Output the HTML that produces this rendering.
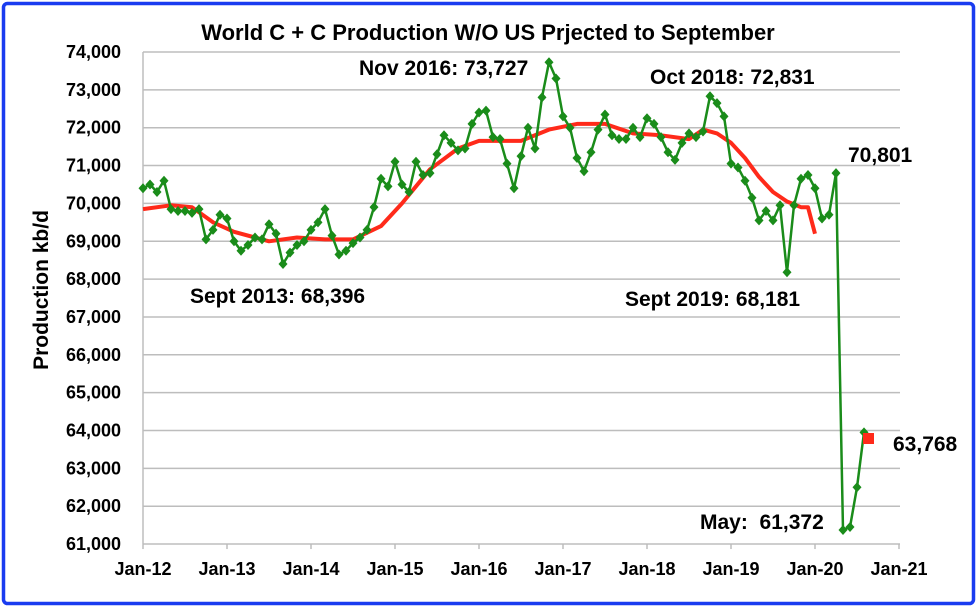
<!DOCTYPE html>
<html><head><meta charset="utf-8"><style>
html,body{margin:0;padding:0;background:#fff}
svg{display:block;font-family:"Liberation Sans",Arial,sans-serif;font-weight:bold}
</style></head><body>
<svg id="s" width="979" height="610" viewBox="0 0 979 610">
<rect x="0" y="0" width="979" height="610" fill="#fff"/>
<rect x="3.5" y="3.5" width="970" height="600" rx="4" fill="none" stroke="#1a3cf0" stroke-width="3.5"/>
<text x="488" y="40" text-anchor="middle" font-size="22">World C + C Production W/O US Prjected to September</text>
<g id="grid" stroke="#bdbdbd" stroke-width="1.5"></g>
<g id="ylab" font-size="18" text-anchor="end"></g>
<g id="xlab" font-size="18" text-anchor="middle"></g>
<text transform="translate(48,290) rotate(-90)" text-anchor="middle" font-size="21">Production kb/d</text>
<polyline id="ma" fill="none" stroke="#ff2a1a" stroke-width="4" stroke-linejoin="round"/>
<polyline id="pr" fill="none" stroke="#1a8c1a" stroke-width="2.5" stroke-linejoin="round"/>
<g id="mk" fill="#1a8c1a"></g>
<rect x="863" y="433" width="11" height="11" fill="#ff2a1a"/>
<g font-size="21">
<text x="359" y="75">Nov 2016: 73,727</text>
<text x="650" y="84">Oct 2018: 72,831</text>
<text x="848" y="162">70,801</text>
<text x="190" y="303">Sept 2013: 68,396</text>
<text x="625" y="306">Sept 2019: 68,181</text>
<text x="893" y="451">63,768</text>
<text x="700" y="529" xml:space="preserve">May:  61,372</text>
</g>
</svg>
<script>
var X0=143,DX=7,Y74=52,YS=37.85;
function yv(v){return Y74+(74-v)*YS;}
var g=document.getElementById('grid'),yl=document.getElementById('ylab'),xl=document.getElementById('xlab'),NS='http://www.w3.org/2000/svg';
function el(p,t,a,txt){var e=document.createElementNS(NS,t);for(var k in a)e.setAttribute(k,a[k]);if(txt)e.textContent=txt;p.appendChild(e);return e;}
for(var v=61;v<=74;v++){var y=yv(v);el(g,'line',{x1:X0,x2:900,y1:y,y2:y});el(yl,'text',{x:121,y:y+6},v+',000');}
el(g,'line',{x1:X0,x2:X0,y1:Y74,y2:yv(61)});
for(var i=0;i<=9;i++){var x=X0+84*i;el(g,'line',{x1:x,x2:x,y1:yv(61),y2:yv(61)+5});el(xl,'text',{x:x,y:575},'Jan-'+(12+i));}
var d=[70.4,70.5,70.3,70.6,69.85,69.8,69.8,69.75,69.85,69.05,69.3,69.7,
69.6,69.0,68.75,68.9,69.1,69.05,69.45,69.2,68.4,68.7,68.9,69.0,
69.3,69.5,69.85,69.15,68.65,68.75,68.95,69.1,69.3,69.9,70.65,70.45,
71.1,70.5,70.3,71.1,70.75,70.8,71.3,71.8,71.6,71.4,71.45,72.1,
72.4,72.45,71.75,71.7,71.05,70.4,71.25,72.0,71.45,72.8,73.73,73.3,
72.3,72.0,71.2,70.85,71.35,71.95,72.35,71.8,71.7,71.7,72.0,71.75,
72.25,72.1,71.75,71.35,71.15,71.6,71.85,71.75,71.9,72.83,72.65,72.3,
71.05,70.95,70.6,70.15,69.55,69.8,69.55,69.95,68.18,69.95,70.65,70.75,
70.4,69.6,69.7,70.8,61.37,61.45,62.5,63.95];
var pts=[],mk=document.getElementById('mk');
d.forEach(function(v,i){var x=X0+DX*i,y=yv(v);pts.push(x+','+y.toFixed(1));el(mk,'polygon',{points:(x)+','+(y-5)+' '+(x+4.5)+','+y+' '+x+','+(y+5)+' '+(x-4.5)+','+y});});
document.getElementById('pr').setAttribute('points',pts.join(' '));
var m=[[0,69.85],[4,69.95],[7,69.9],[10,69.5],[13,69.25],[18,69.0],[22,69.1],[26,69.05],[30,69.05],[34,69.4],[37,70.0],[41,70.9],[45,71.45],[48,71.65],[54,71.65],[58,71.95],[62,72.1],[66,72.1],[70,71.85],[74,71.8],[78,71.7],[80,71.95],[82,71.85],[84,71.6],[86,71.2],[88,70.7],[90,70.3],[92,70.05],[94,69.9],[95,69.9],[96,69.2]];
document.getElementById('ma').setAttribute('points',m.map(function(p){return (X0+DX*p[0])+','+yv(p[1]).toFixed(1);}).join(' '));
</script>
</body></html>
